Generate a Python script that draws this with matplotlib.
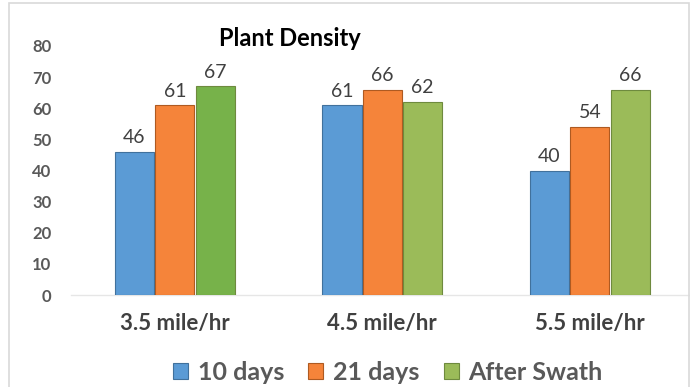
import matplotlib

matplotlib.use("Agg")
import matplotlib.pyplot as plt
import numpy as np
from matplotlib.patches import Rectangle

plt.rcParams["font.family"] = ["Lato", "DejaVu Sans"]

categories = ["3.5 mile/hr", "4.5 mile/hr", "5.5 mile/hr"]
series_names = ["10 days", "21 days", "After Swath"]
days_10 = [46, 61, 40]
days_21 = [61, 66, 54]
after_swath = [67, 62, 66]
y_ticks = [0, 10, 20, 30, 40, 50, 60, 70, 80]

blue = "#5b9bd5"
orange = "#f5843a"
green = "#9bbb59"
green_first = "#77b24a"

W, H = 690, 387
fig = plt.figure(figsize=(W / 100, H / 100), dpi=100)

# light outer frame of the chart area
fig.patches.append(Rectangle((9 / W, -0.05), 680 / W, 1.05 - 3 / H, transform=fig.transFigure,
                             fill=False, edgecolor="#d9d9d9", lw=1.2))

ax = fig.add_axes([71 / W, 1 - 295 / H, 619 / W, 249 / H])
x = np.arange(len(categories))
width = 0.19
step = 0.195

series = [days_10, days_21, after_swath]
colors = [[blue] * 3, [orange] * 3, [green_first, green, green]]
edges = ["#41719c", "#ae5a21", "#6e8a3e"]
for i, (vals, cols) in enumerate(zip(series, colors)):
    bars = ax.bar(x + (i - 1) * step, vals, width, color=cols, edgecolor=edges[i], lw=0.8,
                  label=series_names[i], zorder=3)
    for b, v in zip(bars, vals):
        ax.annotate(str(v), (b.get_x() + b.get_width() / 2, v), xytext=(0, 4),
                    textcoords="offset points", ha="center", va="bottom",
                    fontsize=14, color="#404040")

ax.set_xlim(-0.5, 2.483)
ax.set_ylim(0, 80)
ax.set_yticks(y_ticks)
ax.set_yticklabels([str(t) for t in y_ticks], fontsize=12, fontweight="bold", color="#595959")
ax.set_xticks(x)
ax.set_xticklabels(categories, fontsize=16, fontweight="bold", color="#404040")
ax.tick_params(axis="y", length=0, pad=14)
ax.tick_params(axis="x", length=0, pad=13)
for side in ["top", "right", "left"]:
    ax.spines[side].set_visible(False)
ax.spines["bottom"].set_color("#e6e6e6")
ax.spines["bottom"].set_linewidth(1)

fig.text(290 / W, 1 - 38 / H, "Plant Density", ha="center", va="center",
         fontsize=17, fontweight="bold", color="black")

leg = fig.legend(loc="center", bbox_to_anchor=(388 / W, 1 - 372 / H), ncol=3, frameon=False,
                 fontsize=18, handlelength=0.6, handleheight=0.6, handletextpad=0.4,
                 columnspacing=0.95)
for t in leg.get_texts():
    t.set_fontweight("bold")
    t.set_color("#595959")
for h, c in zip(leg.legend_handles, [blue, orange, green]):
    h.set_facecolor(c)

fig.savefig("out.png", dpi=100)
